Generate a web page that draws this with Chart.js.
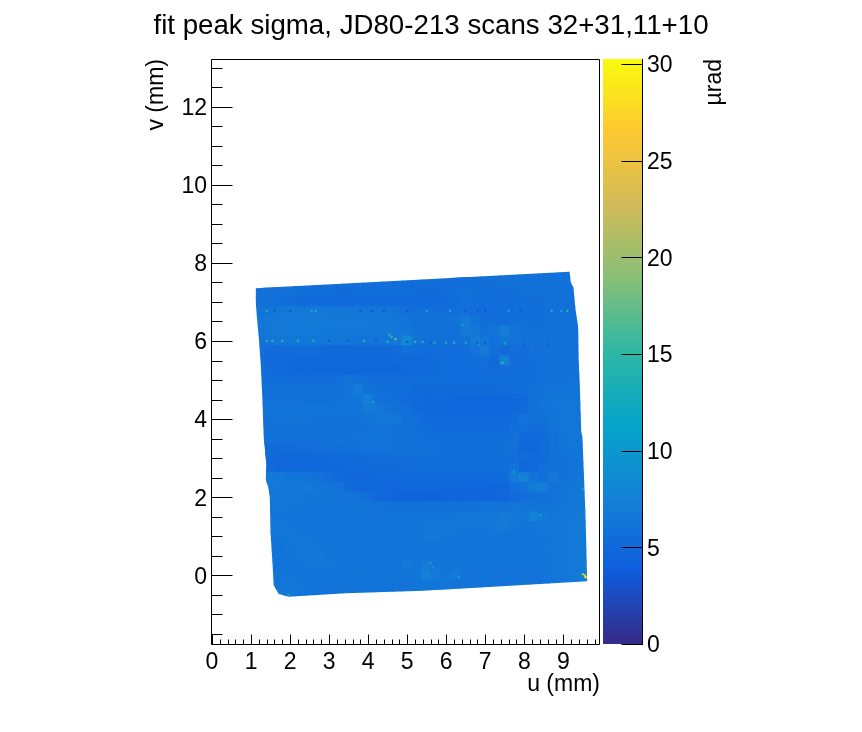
<!DOCTYPE html>
<html><head><meta charset="utf-8">
<style>
html,body{margin:0;padding:0;background:#fff;width:862px;height:732px;overflow:hidden}
canvas{position:absolute;left:0;top:0}
</style>
<script src="https://cdn.jsdelivr.net/npm/chart.js@4"></script>
</head><body>
<canvas id="map" width="862" height="732"></canvas>
<canvas id="bar" width="862" height="732"></canvas>
<script>
const titleText = 'fit peak sigma, JD80-213 scans 32+31,11+10';
const uLabel = 'u (mm)', vLabel = 'v (mm)', zLabel = 'µrad';
const uTicks = [0,1,2,3,4,5,6,7,8,9];
const vTicks = [0,2,4,6,8,10,12];
const zTicks = [0,5,10,15,20,25,30];
const uCells = [1.25,1.5,1.75,2,2.25,2.5,2.75,3,3.25,3.5,3.75,4,4.25,4.5,4.75,5,5.25,5.5,5.75,6,6.25,6.5,6.75,7,7.25,7.5,7.75,8,8.25,8.5,8.75,9,9.25,9.5];
const vCells = [7.75,7.5,7.25,7,6.75,6.5,6.25,6,5.75,5.5,5.25,5,4.75,4.5,4.25,4,3.75,3.5,3.25,3,2.75,2.5,2.25,2,1.75,1.5,1.25,1,0.75,0.5,0.25,0,-0.25,-0.5];
// fit peak sigma, in tenths of a microradian, one row per v
const sigmaTenths = [
[58,58,58,57,57,57,56,56,56,56,56,56,56,56,56,56,56,56,56,56,56,56,56,56,57,57,57,58,58,58,59,59,59,59],
[60,60,59,58,58,57,57,56,56,56,56,56,56,56,56,55,55,55,55,56,56,57,57,57,57,58,58,58,58,59,59,59,59,59],
[60,60,59,58,56,56,55,55,54,54,55,55,56,56,56,55,54,54,54,55,56,59,57,56,56,57,57,58,58,58,59,59,59,59],
[59,58,56,55,54,53,53,52,52,52,52,53,53,53,54,53,53,53,53,54,55,58,56,55,55,56,56,56,57,57,58,58,59,59],
[62,64,65,66,66,66,66,66,65,65,65,64,64,63,62,59,57,57,57,56,57,58,56,55,55,56,56,56,57,57,58,58,59,59],
[64,66,67,67,67,67,67,67,66,66,66,66,65,64,63,62,59,58,58,58,62,68,60,56,56,57,57,57,57,57,58,58,59,60],
[64,66,67,67,67,67,67,67,67,66,66,66,66,66,65,64,59,58,58,58,59,68,66,58,62,72,62,58,58,58,59,59,60,61],
[60,64,65,64,64,64,64,63,63,63,62,62,61,62,66,86,62,58,58,57,58,60,70,64,58,64,62,58,58,58,58,59,60,62],
[56,54,54,53,53,53,53,52,52,52,52,52,52,52,53,58,56,55,55,55,56,56,62,70,58,54,56,57,58,58,58,59,60,62],
[56,54,52,51,50,50,50,50,50,50,50,50,50,50,51,52,52,53,54,55,55,55,56,58,52,76,56,56,57,58,58,59,60,62],
[56,54,52,50,49,48,48,48,48,48,48,48,48,49,49,50,51,52,54,55,55,55,55,56,55,56,56,57,57,58,58,59,60,62],
[58,57,56,55,55,55,56,56,56,62,58,56,56,56,56,55,55,55,55,56,56,56,56,56,56,56,57,57,57,58,59,60,61,62],
[59,58,58,58,58,58,58,58,59,62,68,59,57,57,56,55,54,54,54,54,54,54,54,54,54,55,55,56,58,60,62,62,62,62],
[60,60,60,60,60,59,59,59,60,60,64,74,60,58,56,53,51,50,50,50,50,49,49,49,49,49,50,52,58,62,64,64,63,63],
[62,62,62,62,62,61,61,61,61,61,62,68,66,62,59,56,52,50,50,49,49,49,49,49,49,49,50,54,58,62,64,64,64,64],
[60,60,61,61,61,61,60,60,60,60,60,61,64,66,64,58,56,54,52,52,52,52,52,52,52,52,54,62,60,58,62,64,64,64],
[58,58,59,59,60,60,60,59,59,59,60,60,61,61,60,58,56,55,54,53,53,53,53,53,53,54,56,58,56,56,60,63,64,64],
[56,58,58,59,59,59,59,59,60,60,61,62,62,61,60,58,58,57,56,56,56,55,55,55,55,56,58,52,50,54,58,62,64,64],
[54,54,54,55,56,56,56,57,57,58,59,60,60,60,59,59,58,58,58,57,57,57,57,57,57,58,58,50,49,54,58,61,63,64],
[51,51,50,50,50,50,51,51,52,53,54,55,56,56,57,57,57,56,56,56,56,56,56,56,56,57,56,54,51,54,58,60,62,64],
[56,52,49,48,48,48,48,49,50,51,52,53,54,54,54,55,55,55,55,55,55,55,56,56,56,56,62,48,52,56,58,60,62,64],
[62,66,66,64,63,62,60,56,52,50,50,50,51,51,51,51,52,52,52,52,52,52,52,52,53,53,68,78,62,56,66,60,62,64],
[66,67,67,67,66,66,64,62,60,54,50,49,48,48,48,48,48,48,48,49,49,49,49,49,49,50,56,62,68,72,60,62,64,66],
[64,65,65,65,65,64,64,63,62,61,60,56,51,48,47,46,46,46,46,47,47,47,47,47,47,48,54,56,58,58,60,62,64,66],
[63,63,63,63,62,62,62,62,62,62,61,61,61,60,59,58,59,60,60,60,60,60,60,61,61,61,64,62,62,62,62,63,64,66],
[64,64,62,62,62,62,61,61,61,62,62,61,61,61,61,61,61,62,62,62,63,64,64,64,65,68,66,64,76,68,64,64,65,68],
[62,64,64,63,62,62,61,61,61,62,64,62,61,61,61,62,62,64,64,65,65,65,64,64,66,70,64,62,64,64,64,64,66,68],
[61,62,64,65,64,63,62,61,61,61,61,62,62,62,63,63,64,65,65,64,63,62,62,62,64,62,62,62,62,64,64,64,66,68],
[61,61,62,63,65,65,63,62,62,61,61,62,62,62,62,62,62,62,62,62,62,61,61,61,61,61,62,62,62,63,63,64,66,68],
[61,61,61,62,63,65,66,64,62,62,61,61,61,61,61,61,61,62,62,62,62,62,62,62,62,62,62,62,62,62,63,64,66,69],
[62,62,62,62,62,63,64,64,63,62,62,62,62,62,62,66,64,68,64,62,62,62,62,62,62,61,61,61,61,62,63,64,67,70],
[64,64,63,63,62,62,62,62,63,64,64,63,62,62,62,62,64,76,66,64,68,62,62,62,62,61,61,62,62,62,63,64,67,71],
[68,66,64,63,63,62,61,61,61,61,61,61,61,61,61,62,63,64,64,64,62,61,61,62,62,62,62,62,62,62,63,64,66,68],
[68,68,66,66,64,62,61,61,61,61,61,61,61,61,61,62,62,62,62,62,62,62,62,62,62,62,62,62,62,62,62,62,62,62]
];
// isolated outlier pixels, sigma in microradians
const speckU = [1.4,1.6,2.0,2.55,2.65,3.8,4.1,4.4,5.0,5.5,6.1,6.5,6.8,7.0,7.6,7.9,8.7,8.95,9.1,
 1.4,1.55,1.8,2.2,2.6,3.0,3.5,3.9,4.2,4.5,5.0,5.2,5.4,5.7,5.6,6.0,6.2,6.5,6.8,7.0,7.5,8.0,8.3,8.6,
 4.6,4.7,4.55,7.44,4.14,6.42,6.83,9.57,9.55,9.5,9.5,9.57,5.6,5.67,6.32,7.73,8.42,1.96];
const speckV = [6.77,6.77,6.77,6.77,6.77,6.77,6.77,6.77,6.77,6.77,6.77,6.77,6.77,6.77,6.77,6.77,6.77,6.77,6.77,
 6.0,6.0,6.0,6.0,6.0,6.0,6.0,6.0,6.0,5.98,5.98,5.98,5.98,5.96,5.96,5.96,5.96,5.96,5.94,5.94,5.94,5.92,5.92,5.92,
 6.1,6.05,6.15,5.44,4.44,6.41,5.9,-0.05,0,0.03,2.2,1.68,0.32,0.2,-0.05,2.65,1.54,-0.5];
const speckSigma = [13,3.5,3.5,12,13,3.5,3.5,3.5,3.5,12,12,3.5,3.5,3.5,12,3.5,13,12,14,
 13,14,14,13,13,3.5,3.5,14,3.5,14,3.5,14,13,13,3.5,13,14,13,3.5,3.5,13,3.5,3.5,3.5,
 15,18,14,15,12,11,11,30,26,20,12,14,11,11,11,11,11,12];
// crystal outline, as u,v vertices
const outlineU = [1.12,9.16,9.19,9.26,9.31,9.38,9.39,9.42,9.46,9.49,9.53,9.57,9.59,9.61,6.54,5.22,3.42,1.96,1.71,1.58,1.55,1.50,1.48,1.44,1.38,1.39,1.33,1.32,1.29,1.25,1.20,1.16,1.12];
const outlineV = [7.35,7.77,7.51,7.36,6.84,6.33,5.56,4.95,3.67,3.54,2.52,1.49,0.72,-0.15,-0.33,-0.40,-0.46,-0.55,-0.48,-0.25,0.31,1.08,2.0,2.26,2.44,2.88,3.46,3.67,4.54,5.39,6.08,6.49,7.0];
const paletteStops = [[53,42,135],[15,92,221],[20,129,214],[6,164,202],[46,183,164],[135,191,119],[209,187,89],[254,200,50],[249,251,14]];
const zMax = 30.25;

function sigmaColor(z){
  const t = Math.min(Math.max(z/zMax,0),1)*(paletteStops.length-1);
  const i = Math.min(Math.floor(t),paletteStops.length-2), f = t-i;
  const a = paletteStops[i], b = paletteStops[i+1];
  return `rgb(${a.map((c,k)=>Math.round(c+(b[k]-c)*f)).join(',')})`;
}
const cellPoints = [];
vCells.forEach((v,r)=>uCells.forEach((u,c)=>cellPoints.push({x:u,y:v,z:sigmaTenths[r][c]/10})));
const speckPoints = speckU.map((u,i)=>({x:u,y:speckV[i],z:speckSigma[i]}));

Chart.defaults.font.family = '"Liberation Sans"';
Chart.defaults.color = '#000';
Chart.defaults.animation = false;
const FONT = 23;
const fixedTicks = list => s => { s.ticks = list.map(v=>({value:v})); };

const outlineClip = {
  id:'outlineClip',
  beforeDatasetsDraw(c){
    const {x,y} = c.scales, g = c.ctx;
    g.save(); g.beginPath();
    outlineU.forEach((u,i)=>{ const px=x.getPixelForValue(u), py=y.getPixelForValue(outlineV[i]); i?g.lineTo(px,py):g.moveTo(px,py); });
    g.closePath(); g.clip();
  },
  afterDatasetsDraw(c){ c.ctx.restore(); }
};
const frameAndTicks = {
  id:'frameAndTicks',
  afterDraw(c){
    const {x,y} = c.scales, g = c.ctx, a = c.chartArea;
    g.save(); g.strokeStyle='#000'; g.lineWidth=1; g.beginPath();
    const L=Math.round(a.left)-.5, R=Math.round(a.right)-.5, T=Math.round(a.top)+.5, B=Math.round(a.bottom)+.5;
    g.rect(L,T,R-L,B-T);
    for(let k=0;k<50;k++){ const u=k/5; if(u>x.max) break;
      const px=Math.round(x.getPixelForValue(u))+.5; g.moveTo(px,B); g.lineTo(px,B-(k%5===0?10:5)); }
    for(let k=-3;k<=26;k++){ const v=k/2; if(v>y.max) break;
      const py=Math.round(y.getPixelForValue(v))+.5; g.moveTo(L,py); g.lineTo(L+(k%4===0?21:11),py); }
    g.stroke(); g.restore();
  }
};
new Chart(document.getElementById('map'),{
  type:'scatter',
  plugins:[outlineClip,frameAndTicks],
  data:{datasets:[
    {data:speckPoints,order:1,pointStyle:'rect',pointRadius:1.6,borderWidth:0,pointBorderWidth:0,
     pointBackgroundColor:c=>sigmaColor(c.raw.z)},
    {data:cellPoints,order:2,pointStyle:'rect',pointRadius:7.6,borderWidth:0,pointBorderWidth:0,
     pointBackgroundColor:c=>sigmaColor(c.raw.z)}
  ]},
  options:{
    responsive:false,
    events:[],
    layout:{padding:0},
    plugins:{legend:{display:false},tooltip:{enabled:false},
      title:{display:true,text:titleText,font:{size:27.7,weight:'normal'},color:'#000',padding:{top:9.4,bottom:16.4}}},
    scales:{
      x:{type:'linear',min:0,max:9.94,afterBuildTicks:fixedTicks(uTicks),afterFit:s=>{s.height=88;},
        grid:{display:false,drawTicks:false},border:{display:false},
        ticks:{font:{size:FONT},padding:5,maxRotation:0,autoSkip:false,callback:v=>String(v)},
        title:{display:true,text:uLabel,align:'end',font:{size:FONT},padding:{top:0,bottom:33.8}}},
      y:{type:'linear',min:-1.76,max:13.22,afterBuildTicks:fixedTicks(vTicks),afterFit:s=>{s.width=212;},
        grid:{display:false,drawTicks:false},border:{display:false},
        ticks:{font:{size:FONT},padding:5,labelOffset:2,autoSkip:false,callback:v=>String(v)},
        title:{display:true,text:vLabel,align:'end',font:{size:FONT},padding:{top:143,bottom:0}}},
      spare:{position:'right',min:0,max:1,afterFit:s=>{s.width=262;},
        grid:{display:false,drawTicks:false},border:{display:false},ticks:{display:false}}
    }
  }
});
const barExtras = {
  id:'barExtras',
  afterDraw(c){
    const y=c.scales.y, g=c.ctx, a=c.chartArea;
    g.save(); g.strokeStyle='#000'; g.lineWidth=1; g.beginPath();
    const R=Math.round(a.right)+.5;
    g.moveTo(R,Math.round(a.top)); g.lineTo(R,Math.round(a.bottom)+1);
    zTicks.forEach(z=>{ const py=Math.round(y.getPixelForValue(z))+.5; g.moveTo(R,py); g.lineTo(R-21,py); });
    g.stroke();
    g.translate(715,59); g.rotate(-Math.PI/2);
    g.fillStyle='#000'; g.font=FONT+'px "Liberation Sans"'; g.textAlign='right'; g.textBaseline='middle';
    g.fillText(zLabel,0,0);
    g.restore();
  }
};
new Chart(document.getElementById('bar'),{
  type:'bar',
  plugins:[barExtras],
  data:{labels:['scale'],datasets:[{data:[zMax],barPercentage:1,categoryPercentage:1,borderWidth:0,
    backgroundColor:c=>{
      const a=c.chart.chartArea; if(!a) return '#000';
      const gr=c.chart.ctx.createLinearGradient(0,a.bottom,0,a.top);
      paletteStops.forEach((s,i)=>gr.addColorStop(i/(paletteStops.length-1),`rgb(${s.join(',')})`));
      return gr;
    }}]},
  options:{
    responsive:false,
    events:[],
    layout:{padding:{left:603,right:0,top:59,bottom:88}},
    plugins:{legend:{display:false},tooltip:{enabled:false},title:{display:false}},
    scales:{
      x:{display:false},
      y:{position:'right',min:0,max:zMax,afterBuildTicks:fixedTicks(zTicks),afterFit:s=>{s.width=220;},
        grid:{display:false,drawTicks:false},border:{display:false},
        ticks:{font:{size:FONT},padding:5,labelOffset:2,autoSkip:false,callback:v=>String(v)}}
    }
  }
});
</script>
</body></html>
